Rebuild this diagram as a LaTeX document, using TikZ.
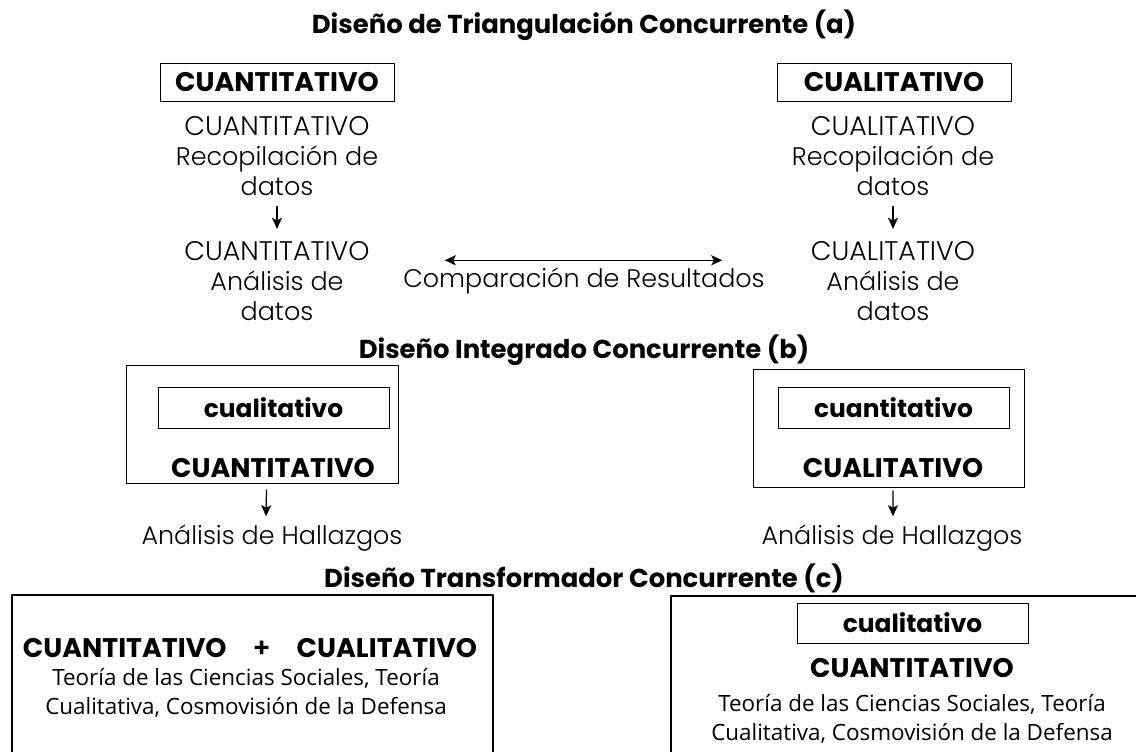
\documentclass[tikz,border=0pt]{standalone}
\usepackage{fontspec}
\setmainfont{Poppins}
\newfontfamily\thinfont{Poppins Light}
\newfontfamily\notefont{Open Sans}
\usetikzlibrary{arrows.meta}

\newcommand{\capsline}[1]{{\fontsize{27}{30}\selectfont #1}}
\tikzset{
  titletext/.style={font=\bfseries\fontsize{26}{30}\selectfont, inner sep=0pt},
  headbox/.style={draw, line width=1bp, minimum width=234bp, minimum height=37bp,
    inner sep=0pt, font=\bfseries\fontsize{27}{30}\selectfont},
  lowbox/.style={headbox, minimum width=231bp, font=\bfseries\fontsize{25}{30}\selectfont},
  lighttext/.style={align=center, inner sep=0pt, font=\thinfont\fontsize{25.5}{30}\selectfont},
  outerbox/.style={draw, line width=1bp, inner sep=0pt},
  boldtext/.style={inner sep=0pt, font=\bfseries\fontsize{27}{30}\selectfont},
  notetext/.style={align=center, inner sep=0pt, font=\notefont\fontsize{22.5}{29}\selectfont},
}

\begin{document}
\begin{tikzpicture}[x=1bp,y=-1bp,>={Stealth[length=11bp,width=10bp,inset=2.5bp]},line join=bevel]
  \useasboundingbox (0,0) rectangle (1136,752);
  \clip (0,0) rectangle (1136,752);
  \pgfsetlinewidth{1.2bp}
%%
  % Part (a)
  \node[titletext] (titleA) at (584,25) {Diseño de Triangulación Concurrente (a)};
  \node[headbox] (cuanHead) at (277,82.5) {CUANTITATIVO};
  \node[headbox] (cualHead) at (894,82.5) {CUALITATIVO};
  \node[lighttext] (cuanRec) at (277,156) {\capsline{CUANTITATIVO}\\Recopilación de\\datos};
  \node[lighttext] (cuanAna) at (277,281) {\capsline{CUANTITATIVO}\\Análisis de\\datos};
  \node[lighttext] (cualRec) at (893,156) {\capsline{CUALITATIVO}\\Recopilación de\\datos};
  \node[lighttext] (cualAna) at (893,281) {\capsline{CUALITATIVO}\\Análisis de\\datos};
  \node[lighttext] (compare) at (584,281) {Comparación de Resultados};
  % Edge: cuanRec -> cuanAna
  \draw [->] ([yshift=-10bp]cuanRec.south) -- ([yshift=12bp]cuanAna.north);
  % Edge: cualRec -> cualAna
  \draw [->] ([yshift=-10bp]cualRec.south) -- ([yshift=12bp]cualAna.north);
  % Edge: cuanAna <-> cualAna
  \draw [<->] ([xshift=42bp,yshift=7bp]compare.north west) -- ([xshift=-43bp,yshift=7bp]compare.north east);
%%
  % Part (b)
  \node[titletext] (titleB) at (584,350) {Diseño Integrado Concurrente (b)};
  \node[outerbox, minimum width=271bp, minimum height=118bp] (leftOuter) at (262.5,424) {};
  \node[lowbox, minimum height=41bp] (leftInner) at (273.5,407.5) {cualitativo};
  \node[boldtext] (leftMain) at (273,468) {CUANTITATIVO};
  \node[outerbox, minimum width=271bp, minimum height=118bp] (rightOuter) at (888.5,428) {};
  \node[lowbox, minimum height=41bp] (rightInner) at (893.5,407.5) {cuantitativo};
  \node[boldtext] (rightMain) at (893,468) {CUALITATIVO};
  \node[lighttext] (leftFind) at (272,538) {Análisis de Hallazgos};
  \node[lighttext] (rightFind) at (892,538) {Análisis de Hallazgos};
  % Edge: leftOuter -> leftFind
  \draw [->] ([xshift=4bp,yshift=-6bp]leftOuter.south) -- ([yshift=8bp,xshift=-6bp]leftFind.north);
  % Edge: rightOuter -> rightFind
  \draw [->] ([xshift=4.5bp,yshift=-3bp]rightOuter.south) -- ([yshift=8bp,xshift=1bp]rightFind.north);
%%
  % Part (c)
  \node[titletext] (titleC) at (584,578) {Diseño Transformador Concurrente (c)};
  \draw (12,800) rectangle (493,595);
  \node[boldtext] (mixMain) at (250,648) {CUANTITATIVO\hspace{26bp}{\thinfont+}\hspace{26bp}CUALITATIVO};
  \node[notetext] (mixNote) at (246,693) {Teoría de las Ciencias Sociales, Teoría\\Cualitativa, Cosmovisión de la Defensa};
  \draw (671,800) -- (671,596) -- (1140,596);
  \node[lowbox, minimum height=40bp] (nestInner) at (912.5,623) {cualitativo};
  \node[boldtext] (nestMain) at (912,668) {CUANTITATIVO};
  \node[notetext] (nestNote) at (912,719) {Teoría de las Ciencias Sociales, Teoría\\Cualitativa, Cosmovisión de la Defensa};
%
\end{tikzpicture}
\end{document}
